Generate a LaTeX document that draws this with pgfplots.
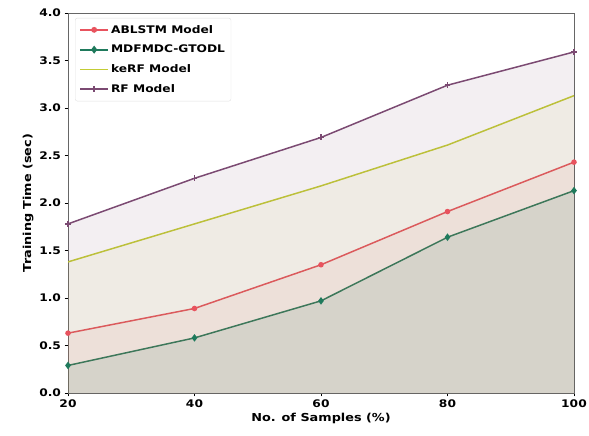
\documentclass[border=0pt]{standalone}
\usepackage{fontspec}
\setmainfont{DejaVu Sans}[FakeStretch=1.17]
\usepackage{pgfplots}
\pgfplotsset{compat=1.18}
\definecolor{cA}{HTML}{E8535E}
\definecolor{cM}{HTML}{1F7A5C}
\definecolor{cK}{HTML}{C3CC35}
\definecolor{cR}{HTML}{7B4A72}
\begin{document}
\begin{tikzpicture}
\begin{axis}[
  name=ax,
  scale only axis, width=506bp, height=380bp,
  xmin=20, xmax=100, ymin=0, ymax=4,
  xtick={20,40,60,80,100}, ytick={0,0.5,...,4},
  /pgf/number format/assume math mode=true,
  /pgf/number format/fixed, /pgf/number format/fixed zerofill, /pgf/number format/precision=1,
  xticklabel={\pgfmathprintnumber[fixed,precision=0]{\tick}},
  ticklabel style={font=\fontsize{10.5}{12}\selectfont\bfseries},
  xlabel={No. of Samples (\%)}, ylabel={Training Time (sec)},
  label style={font=\fontsize{11}{13}\selectfont\bfseries},
  xlabel style={yshift=2pt}, ylabel style={yshift=-1pt},
  axis line style={gray!80!black},
  tick style={black}, tick align=outside, major tick length=3.5pt,
  xtick pos=bottom, ytick pos=left,
  legend style={at={(0.014,0.987)}, anchor=north west, draw=gray!25, rounded corners=2pt,
    font=\fontsize{10.5}{12}\selectfont\bfseries, fill=white, fill opacity=0.85, text opacity=1, draw opacity=1,
    row sep=6.5pt, inner xsep=4pt, inner ysep=5pt},
  legend image code/.code={\draw[mark repeat=2,mark phase=2] plot coordinates {(0bp,0bp) (14bp,0bp) (28bp,0bp)};},
  legend image post style={line width=1.8pt, draw opacity=1, fill opacity=1},
  legend cell align=left,
  every axis plot/.append style={line width=1.5pt},
]
\addplot[cA, mark=*, mark size=2pt] coordinates {(20,0.63) (40,0.89) (60,1.35) (80,1.91) (100,2.43)};
\addlegendentry{ABLSTM Model}
\addplot[cM, mark=diamond*, mark size=2.6pt] coordinates {(20,0.29) (40,0.58) (60,0.97) (80,1.64) (100,2.13)};
\addlegendentry{MDFMDC-GTODL}
\addplot[cK, mark=none] coordinates {(20,1.38) (40,1.78) (60,2.18) (80,2.61) (100,3.13)};
\addlegendentry{keRF Model}
\addplot[cR, mark=+, mark size=3pt] coordinates {(20,1.78) (40,2.26) (60,2.69) (80,3.24) (100,3.59)};
\addlegendentry{RF Model}
\addplot[draw=none, fill=cA, fill opacity=0.08, forget plot] coordinates {(20,0.63) (40,0.89) (60,1.35) (80,1.91) (100,2.43)} \closedcycle;
\addplot[draw=none, fill=cM, fill opacity=0.12, forget plot] coordinates {(20,0.29) (40,0.58) (60,0.97) (80,1.64) (100,2.13)} \closedcycle;
\addplot[draw=none, fill=cK, fill opacity=0.08, forget plot] coordinates {(20,1.38) (40,1.78) (60,2.18) (80,2.61) (100,3.13)} \closedcycle;
\addplot[draw=none, fill=cR, fill opacity=0.09, forget plot] coordinates {(20,1.78) (40,2.26) (60,2.69) (80,3.24) (100,3.59)} \closedcycle;
\end{axis}
\pgfresetboundingbox
\path[use as bounding box] ([xshift=-68bp,yshift=-42bp]ax.south west) rectangle ([xshift=15bp,yshift=13bp]ax.north east);
\end{tikzpicture}
\end{document}
